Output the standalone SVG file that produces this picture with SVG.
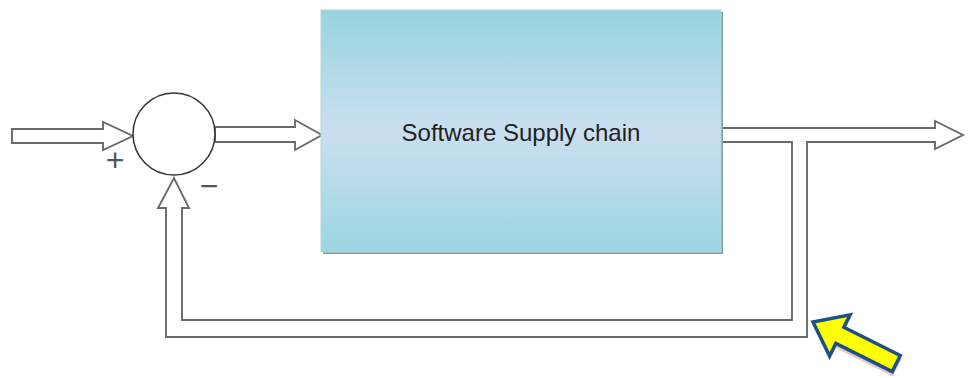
<svg xmlns="http://www.w3.org/2000/svg" width="970" height="378" viewBox="0 0 970 378">
<style>
.arr{fill:#fff;stroke:#6a6a6a;stroke-width:1.9;stroke-linejoin:miter}
.sign{font-family:"Liberation Sans",Arial,sans-serif;fill:#555}
.lbl{font-family:"Liberation Sans",Arial,sans-serif;font-size:24px;fill:#222}
</style>
<defs>
<linearGradient id="boxg" x1="0" y1="0" x2="0" y2="1">
<stop offset="0" stop-color="#98d3df"/>
<stop offset="0.5" stop-color="#cadff1"/>
<stop offset="1" stop-color="#9cd5e1"/>
</linearGradient>
</defs>
<rect width="970" height="378" fill="#fff"/>
<g id="connectors">
<path class="arr" d="M12,129 H103 V122 L133,136 L103,150 V143 H12 Z"/>
<path class="arr" d="M215,127 H295 V120 L322,135 L295,150 V142 H215 Z"/>
<path class="arr" d="M721,128 H935 V121 L963,135 L935,149 V142 H807 V337 H166 V208 H158 L174,178 L189,208 H182 V320 H792 V142 H721 Z"/>
</g>
<g id="block">
<rect x="323" y="12" width="400" height="242" fill="#7fa2aa"/>
<rect x="321" y="10" width="400" height="242" fill="url(#boxg)" stroke="#b4d8cf" stroke-width="1"/>
<text class="lbl" x="521" y="141" text-anchor="middle">Software Supply chain</text>
</g>
<g id="sum">
<circle cx="174" cy="134" r="41" fill="#fff" stroke="#333" stroke-width="1.5"/>
<text class="sign" x="115" y="171" font-size="32" text-anchor="middle">+</text>
<text class="sign" x="209" y="197" font-size="32" text-anchor="middle">−</text>
</g>
<g id="pointer" transform="translate(813,322) rotate(26.5)">
<path d="M3,3 L32,-21 V-6 H96 V13 H32 V27 Z" fill="#d9a0a0" opacity="0.6"/>
<path d="M0,0 L30,-23 V-9 H93 V9 H30 V23 Z" fill="#ffff00" stroke="#1d5086" stroke-width="3.5" stroke-linejoin="miter"/>
</g>
</svg>
